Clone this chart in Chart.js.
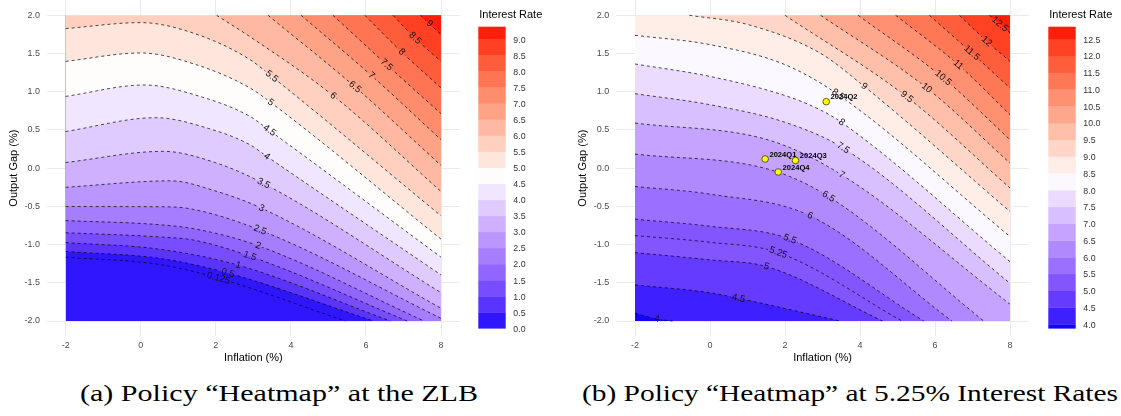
<!DOCTYPE html>
<html><head><meta charset="utf-8">
<script src="https://cdn.jsdelivr.net/npm/chart.js@4/dist/chart.umd.min.js"></script>
<style>
html,body{margin:0;padding:0;background:#fff;width:1121px;height:416px;overflow:hidden}
canvas{position:absolute;top:0}
#ca{left:0}
#cb{left:569px}
.cap{position:absolute;top:379px;font-family:'Liberation Serif','DejaVu Serif',serif;font-size:24px;line-height:28px;white-space:nowrap;transform-origin:left top;color:#000}
</style></head>
<body>
<canvas id="ca" width="560" height="370"></canvas>
<canvas id="cb" width="552" height="370"></canvas>
<div class="cap" id="capA">(a) Policy “Heatmap” at the ZLB</div>
<div class="cap" id="capB">(b) Policy “Heatmap” at 5.25% Interest Rates</div>
<script>
// ---------- shared axes ----------
const xTicks = [-2, 0, 2, 4, 6, 8];
const xTickLabels = ['-2', '0', '2', '4', '6', '8'];
const yTicks = [-2, -1.5, -1, -0.5, 0, 0.5, 1, 1.5, 2];
const yTickLabels = ['-2.0', '-1.5', '-1.0', '-0.5', '0.0', '0.5', '1.0', '1.5', '2.0'];
const xTitle = 'Inflation (%)';
const yTitle = 'Output Gap (%)';
const legendTitle = 'Interest Rate';

// ---------- panel (a): ZLB ----------
const zlbLevels = [0.125, 0.5, 1, 1.5, 2, 2.5, 3, 3.5, 4, 4.5, 5, 5.5, 6, 6.5, 7, 7.5, 8, 8.5, 9];
const zlbLevelText = ['0.125', '0.5', '1', '1.5', '2', '2.5', '3', '3.5', '4', '4.5', '5', '5.5', '6', '6.5', '7', '7.5', '8', '8.5', '9'];
const zlbLines = [
  [[-2, -1.165], [0.5, -1.26], [2.07, -1.44], [5.45, -2]],
  [[-2, -1.09], [0.5, -1.18], [2.3, -1.37], [6.2, -2]],
  [[-2, -0.974], [0.5, -1.06], [2.6, -1.27], [6.65, -2]],
  [[-2, -0.845], [0.5, -0.9], [1.4, -0.94], [2.9, -1.15], [7.1, -2]],
  [[-2, -0.686], [0.5, -0.74], [1.5, -0.8], [3.1, -1.01], [7.55, -2]],
  [[-2, -0.502], [0.5, -0.505], [1.3, -0.53], [3.18, -0.81], [8, -1.965]],
  [[-2, -0.25], [0.8, -0.166], [2, -0.3], [3.22, -0.524], [8, -1.833]],
  [[-2, 0.074], [0.6, 0.22], [2, 0.07], [3.27, -0.2], [8, -1.629]],
  [[-2, 0.48], [0.4, 0.66], [1.8, 0.52], [2.91, 0.306], [3.36, 0.153], [8, -1.397]],
  [[-2, 0.939], [0.1, 1.088], [1.5, 0.95], [2.91, 0.677], [3.43, 0.493], [8, -1.165]],
  [[-2, 1.397], [0, 1.507], [1.5, 1.35], [2.91, 1.049], [3.46, 0.86], [8, -0.929]],
  [[-2, 1.826], [0, 1.904], [1.5, 1.75], [2.91, 1.42], [3.49, 1.2], [8, -0.624]],
  [[2.02, 2], [2.91, 1.72], [5.13, 0.947], [8, -0.306]],
  [[3.39, 2], [5.71, 1.062], [8, 0.035]],
  [[4.27, 2], [6.15, 1.21], [8, 0.372]],
  [[5.12, 2], [6.55, 1.354], [8, 0.712]],
  [[5.97, 2], [6.95, 1.52], [8, 1.049]],
  [[6.72, 2], [7.31, 1.7], [8, 1.397]],
  [[7.45, 2], [8, 1.747]]
];
const zlbLabelX = [2.07, 2.32, 2.6, 2.91, 3.13, 3.18, 3.22, 3.27, 3.36, 3.43, 3.46, 3.49, 5.13, 5.71, 6.15, 6.55, 6.95, 7.31, 7.69];
const zlbLegendTicks = [0, 0.5, 1, 1.5, 2, 2.5, 3, 3.5, 4, 4.5, 5, 5.5, 6, 6.5, 7, 7.5, 8, 8.5, 9];
const zlbLegendLabels = ['0.0', '0.5', '1.0', '1.5', '2.0', '2.5', '3.0', '3.5', '4.0', '4.5', '5.0', '5.5', '6.0', '6.5', '7.0', '7.5', '8.0', '8.5', '9.0'];
const zlbRange = [0, 9.39];

// ---------- panel (b): 5.25% ----------
const hiLevels = [4, 4.5, 5, 5.25, 5.5, 6, 6.5, 7, 7.5, 8, 8.5, 9, 9.5, 10, 10.5, 11, 11.5, 12, 12.5];
const hiLevelText = ['4', '4.5', '5', '5.25', '5.5', '6', '6.5', '7', '7.5', '8', '8.5', '9', '9.5', '10', '10.5', '11', '11.5', '12', '12.5'];
const hiLines = [
  [[-2, -1.9], [-1.4, -1.975], [-1.0, -2]],
  [[-2, -1.528], [0, -1.63], [0.76, -1.703], [3.47, -2]],
  [[-2, -1.105], [0, -1.2], [1.51, -1.288], [4.6, -2]],
  [[-2, -0.882], [0, -0.97], [1.82, -1.105], [5.12, -2]],
  [[-2, -0.668], [0, -0.76], [2.13, -0.929], [5.7, -2]],
  [[-2, -0.24], [0, -0.34], [2.67, -0.624], [6.45, -2]],
  [[-2, 0.184], [1.6, -0.02], [3.16, -0.371], [7.3, -2]],
  [[-2, 0.59], [1.6, 0.362], [3.51, -0.087], [8, -1.78]],
  [[-2, 0.974], [0, 0.83], [2, 0.6], [3.55, 0.263], [8, -1.506]],
  [[-2, 1.363], [0, 1.2], [2, 0.95], [2.93, 0.765], [3.51, 0.598], [8, -1.223]],
  [[-2, 1.738], [0, 1.616], [2, 1.354], [3.42, 0.961], [8, -0.895]],
  [[-0.55, 2], [1, 1.88], [2.93, 1.507], [4.11, 1.07], [8, -0.568]],
  [[2.0, 2], [5.25, 0.931], [8, -0.26]],
  [[2.95, 2], [5.78, 1.049], [8, 0.066]],
  [[3.95, 2], [6.22, 1.18], [8, 0.372]],
  [[4.95, 2], [6.62, 1.354], [8, 0.7]],
  [[5.85, 2], [6.98, 1.507], [8, 1.049]],
  [[6.65, 2], [7.38, 1.66], [8, 1.397]],
  [[7.45, 2], [8, 1.77]]
];
const hiLabelX = [-1.42, 0.76, 1.51, 1.82, 2.13, 2.67, 3.16, 3.51, 3.55, 3.51, 3.42, 4.11, 5.25, 5.78, 6.22, 6.62, 6.98, 7.38, 7.73];
const hiLegendTicks = [4, 4.5, 5, 5.5, 6, 6.5, 7, 7.5, 8, 8.5, 9, 9.5, 10, 10.5, 11, 11.5, 12, 12.5];
const hiLegendLabels = ['4.0', '4.5', '5.0', '5.5', '6.0', '6.5', '7.0', '7.5', '8.0', '8.5', '9.0', '9.5', '10.0', '10.5', '11.0', '11.5', '12.0', '12.5'];
const hiRange = [3.88, 12.87];
const quarterNames = ['2024Q1', '2024Q2', '2024Q3', '2024Q4'];
const quarterInflation = [1.47, 3.10, 2.28, 1.82];
const quarterGap = [0.12, 0.87, 0.10, -0.05];

// ---------- colour helpers (diverging blue-white-red in Lab) ----------
function s2l(c){c/=255;return c<=0.04045?c/12.92:Math.pow((c+0.055)/1.055,2.4);}
function l2s(c){c=c<=0.0031308?12.92*c:1.055*Math.pow(c,1/2.4)-0.055;return Math.round(Math.max(0,Math.min(1,c))*255);}
const XN=0.95047,ZN=1.08883;
function toLab(r,g,b){const R=s2l(r),G=s2l(g),B=s2l(b);
  const X=(0.4124*R+0.3576*G+0.1805*B)/XN,Y=0.2126*R+0.7152*G+0.0722*B,Z=(0.0193*R+0.1192*G+0.9505*B)/ZN;
  const f=t=>t>0.008856?Math.cbrt(t):7.787*t+16/116;
  return [116*f(Y)-16,500*(f(X)-f(Y)),200*(f(Y)-f(Z))];}
function fromLab(L,a,b){const fy=(L+16)/116,fx=fy+a/500,fz=fy-b/200;
  const fi=t=>t*t*t>0.008856?t*t*t:(t-16/116)/7.787;
  const X=XN*fi(fx),Y=fi(fy),Z=ZN*fi(fz);
  const R=3.2406*X-1.5372*Y-0.4986*Z,G=-0.9689*X+1.8758*Y+0.0415*Z,B=0.0557*X-0.2040*Y+1.0570*Z;
  return 'rgb('+l2s(R)+','+l2s(G)+','+l2s(B)+')';}
const LB=toLab(0,0,255),LW=toLab(255,255,255),LR=toLab(255,0,0);
function divColor(v,lo,hi){const mid=(lo+hi)/2,D=(hi-lo)/2;let t=Math.max(-1,Math.min(1,(v-mid)/D));
  const A=t<0?LB:LR,s=1-Math.pow(1-Math.abs(t),1.12);
  return fromLab(LW[0]+(A[0]-LW[0])*s,LW[1]+(A[1]-LW[1])*s,LW[2]+(A[2]-LW[2])*s);}

const FONT = "'Liberation Sans', Arial, Helvetica, sans-serif";
const LABEL_FONT = '9.5px ' + FONT;

function bezAt(p0,c1,c2,p1,t){const u=1-t;return u*u*u*p0+3*u*u*t*c1+3*u*t*t*c2+t*t*t*p1;}
function bezD(p0,c1,c2,p1,t){const u=1-t;return 3*u*u*(c1-p0)+6*u*t*(c2-c1)+3*t*t*(p1-c2);}
function pointOnLine(pts,px){
  for(let k=1;k<pts.length;k++){const a=pts[k-1],b=pts[k];
    if(px>=a.x-0.01&&px<=b.x+0.01){
      const ax=[a.x,a.cp2x??a.x,b.cp1x??b.x,b.x],ay=[a.y,a.cp2y??a.y,b.cp1y??b.y,b.y];
      let lo=0,hi=1;for(let i=0;i<40;i++){const m=(lo+hi)/2;if(bezAt(...ax,m)<px)lo=m;else hi=m;}
      const t=(lo+hi)/2;
      return {x:px,y:bezAt(...ay,t),ang:Math.atan2(bezD(...ay,t),bezD(...ax,t))};}}
  return null;}

function makeChart(id,P){
  const off = P.points ? 1 : 0;
  const datasets=[];
  if(P.points){
    datasets.push({type:'scatter',data:P.points.x.map((v,i)=>({x:v,y:P.points.y[i]})),
      backgroundColor:'#ffff00',borderColor:'#000',borderWidth:0.6,pointRadius:3.3,order:0,showLine:false});
  }
  P.lines.forEach(ln=>datasets.push({type:'line',data:ln.map(p=>({x:p[0],y:p[1]})),
    borderColor:'#000',borderWidth:0.7,borderDash:[3,3],pointRadius:0,pointHitRadius:0,fill:false,
    cubicInterpolationMode:'monotone',order:1}));
  const edges=[P.range[0]];P.legendTicks.forEach(t=>{if(t>P.range[0])edges.push(t);});edges.push(P.range[1]);
  const binCols=[];for(let i=0;i<edges.length-1;i++)binCols.push(divColor((edges[i]+edges[i+1])/2,P.range[0],P.range[1]));
  const XMIN=-2,XMAX=8,YMIN=-2,YMAX=2;
  const labelGeom=(chart,i)=>{
    const pts=chart.getDatasetMeta(i+off).data;
    chart.getDatasetMeta(i+off).dataset.updateControlPoints(chart.chartArea,'x');
    return pointOnLine(pts,chart.scales.x.getPixelForValue(P.labelX[i]));
  };
  const plugin={id:'panel'+id,
    beforeDatasetsDraw(chart){
      const {ctx,chartArea}=chart,xs=chart.scales.x,ys=chart.scales.y;
      const X0=xs.getPixelForValue(XMIN),X1=xs.getPixelForValue(XMAX),Y0=ys.getPixelForValue(YMIN),Y1=ys.getPixelForValue(YMAX);
      ctx.save();ctx.beginPath();ctx.rect(X0,Y1,X1-X0,Y0-Y1);ctx.clip();
      ctx.fillStyle=binCols[0];ctx.fillRect(X0,Y1,X1-X0,Y0-Y1);
      P.levels.forEach((lev,i)=>{
        const bi=edges.indexOf(lev);if(bi<0||bi>=binCols.length)return;
        const el=chart.getDatasetMeta(i+off).dataset;el.updateControlPoints(chartArea,'x');
        const ln=P.lines[i],f=ln[0],l=ln[ln.length-1];
        ctx.beginPath();el.path(ctx);
        if(l[0]<XMAX-1e-6)ctx.lineTo(X1,Y0);
        ctx.lineTo(X1,Y1);
        if(f[0]<=XMIN+1e-6)ctx.lineTo(X0,Y1);
        ctx.closePath();ctx.fillStyle=binCols[bi];ctx.fill();
      });
      ctx.restore();
    },
    beforeDatasetDraw(chart,args){
      const i=args.index-off;if(i<0)return;
      const {ctx}=chart;ctx.save();
      const q=labelGeom(chart,i);
      ctx.beginPath();ctx.rect(0,0,chart.width,chart.height);
      if(q){ctx.font=LABEL_FONT;const w=ctx.measureText(P.levelText[i]).width/2+1.5,h=4.5;
        const c=Math.cos(q.ang),s=Math.sin(q.ang);
        const pt=(u,v)=>[q.x+u*c-v*s,q.y+u*s+v*c];
        const a=pt(-w,-h),b=pt(w,-h),d=pt(w,h),e=pt(-w,h);
        ctx.moveTo(a[0],a[1]);ctx.lineTo(b[0],b[1]);ctx.lineTo(d[0],d[1]);ctx.lineTo(e[0],e[1]);ctx.closePath();}
      ctx.clip('evenodd');
    },
    afterDatasetDraw(chart,args){
      if(args.index-off<0)return;chart.ctx.restore();
    },
    afterDatasetsDraw(chart){
      const {ctx}=chart,xs=chart.scales.x,ys=chart.scales.y;
      ctx.save();
      ctx.font=LABEL_FONT;ctx.fillStyle='#111';ctx.textAlign='center';ctx.textBaseline='middle';
      P.levels.forEach((lev,i)=>{
        const q=labelGeom(chart,i);if(!q)return;
        ctx.save();ctx.translate(q.x,q.y);ctx.rotate(q.ang);ctx.fillText(P.levelText[i],0,0);ctx.restore();
      });
      if(P.points){
        ctx.font='bold 7.6px '+FONT;ctx.fillStyle='#000';ctx.textAlign='left';ctx.textBaseline='middle';
        P.points.names.forEach((n,i)=>{
          ctx.fillText(n,xs.getPixelForValue(P.points.x[i])+4.3,ys.getPixelForValue(P.points.y[i])-4.3);});
      }
      // legend
      const L=P.legendBox,vy=v=>L.bottom-(v-P.range[0])/(P.range[1]-P.range[0])*(L.bottom-L.top);
      for(let i=0;i<binCols.length;i++){
        const yTop=vy(edges[i+1]),yBot=vy(edges[i]);
        ctx.fillStyle=binCols[i];ctx.fillRect(L.x,yTop,L.w,yBot-yTop+0.3);
      }
      ctx.fillStyle='#333';ctx.font='8.8px '+FONT;ctx.textAlign='left';ctx.textBaseline='middle';
      P.legendTicks.forEach((t,i)=>ctx.fillText(P.legendLabels[i],L.x+L.w+7.6,vy(t)+1));
      ctx.fillStyle='#000';ctx.font='11px '+FONT;
      ctx.fillText(legendTitle,L.x+1,15);
      ctx.restore();
    }
  };
  new Chart(document.getElementById(id),{type:'line',data:{datasets},plugins:[plugin],
    options:{responsive:false,animation:false,events:[],
      layout:{autoPadding:false,padding:{left:0,right:P.padRight,top:0,bottom:0}},
      plugins:{legend:{display:false},tooltip:{enabled:false}},
      scales:{
        x:{type:'linear',min:-2.5,max:8.5,
          afterBuildTicks:s=>{s.ticks=xTicks.map(v=>({value:v}));},
          afterFit:s=>{s.height=33.7;s.paddingLeft=0;s.paddingRight=0;},
          ticks:{callback:(v,i)=>xTickLabels[i],font:{family:FONT,size:9},color:'#4d4d4d',padding:4,maxRotation:0,autoSkip:false},
          grid:{color:'#ebebeb',lineWidth:1,drawTicks:false},border:{display:false},
          title:{display:true,text:xTitle,font:{family:FONT,size:11},color:'#000',padding:{top:0,bottom:5}}},
        y:{type:'linear',min:-2.2,max:2.2,
          afterBuildTicks:s=>{s.ticks=yTicks.map(v=>({value:v}));},
          afterFit:s=>{s.width=P.yWidth;s.paddingTop=0;s.paddingBottom=0;},
          ticks:{callback:(v,i)=>yTickLabels[i],font:{family:FONT,size:9},color:'#4d4d4d',padding:6.9,autoSkip:false},
          grid:{color:'#ebebeb',lineWidth:1,drawTicks:false},border:{display:false},
          title:{display:true,text:yTitle,font:{family:FONT,size:11},color:'#000',padding:{top:7.6,bottom:0}}}
      }}});
}

makeChart('ca',{levels:zlbLevels,levelText:zlbLevelText,lines:zlbLines,labelX:zlbLabelX,
  legendTicks:zlbLegendTicks,legendLabels:zlbLegendLabels,range:zlbRange,
  legendBox:{x:478.3,w:27.4,top:26.7,bottom:328.3},padRight:100.2,yWidth:46.9});
makeChart('cb',{levels:hiLevels,levelText:hiLevelText,lines:hiLines,labelX:hiLabelX,
  legendTicks:hiLegendTicks,legendLabels:hiLegendLabels,range:hiRange,
  legendBox:{x:479.3,w:27.4,top:26.7,bottom:328.3},padRight:92.25,yWidth:47.25,
  points:{names:quarterNames,x:quarterInflation,y:quarterGap}});

// captions fitted to their measured widths
function fitCap(id,left,width){const e=document.getElementById(id);const w=e.getBoundingClientRect().width;
  e.style.left=left+'px';e.style.transform='scaleX('+(width/w)+')';}
fitCap('capA',80,398);fitCap('capB',582,536);
</script>
</body></html>
